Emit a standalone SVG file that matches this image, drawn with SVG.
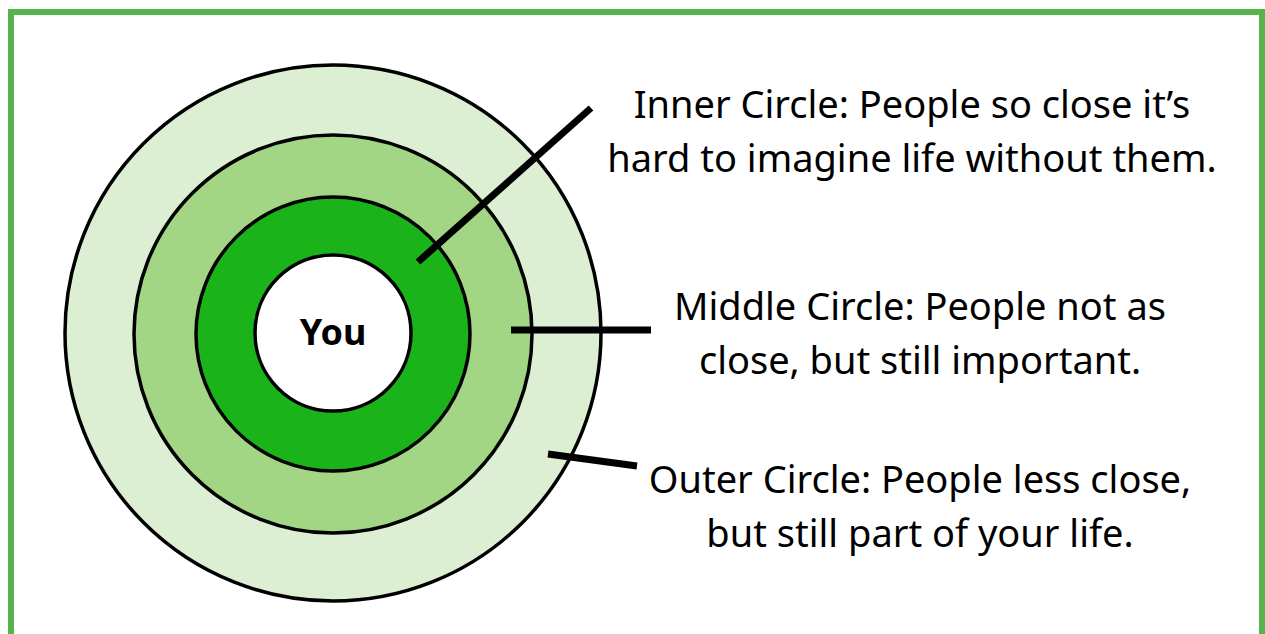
<svg xmlns="http://www.w3.org/2000/svg" width="1265" height="634" viewBox="0 0 1265 634">
<style>
.ring{stroke:#000;stroke-width:3.5}
.lbl{font-family:"Noto Sans","Open Sans",sans-serif;font-size:38px;fill:#000;text-anchor:middle}
.conn{stroke:#000;stroke-width:7;stroke-linecap:butt}
</style>
<rect width="1265" height="634" fill="#fff"/>
<rect x="11" y="12" width="1251" height="700" fill="none" stroke="#55b54a" stroke-width="6"/>
<g id="outer-circle"><circle class="ring" cx="333" cy="333" r="268" fill="#ddefd3"/></g>
<g id="middle-circle"><circle class="ring" cx="333" cy="334" r="199" fill="#a2d584"/></g>
<g id="inner-circle"><circle class="ring" cx="333" cy="334" r="137" fill="#1ab31a"/></g>
<g id="you"><circle class="ring" cx="333" cy="333" r="78" fill="#fff"/>
<text x="333" y="345" font-family="Noto Sans, Open Sans, sans-serif" font-weight="bold" font-size="36" text-anchor="middle">You</text></g>
<g id="connectors">
<line class="conn" x1="418" y1="262" x2="591" y2="108"/>
<line class="conn" x1="511" y1="330" x2="651" y2="330"/>
<line class="conn" x1="548" y1="454" x2="637" y2="466"/>
</g>
<g id="label-inner"><text class="lbl" x="912" y="118">Inner Circle: People so close it’s</text><text class="lbl" x="912" y="172">hard to imagine life without them.</text></g>
<g id="label-middle"><text class="lbl" x="920" y="320">Middle Circle: People not as</text><text class="lbl" x="920" y="374">close, but still important.</text></g>
<g id="label-outer"><text class="lbl" x="920" y="493">Outer Circle: People less close,</text><text class="lbl" x="920" y="547">but still part of your life.</text></g>
</svg>
